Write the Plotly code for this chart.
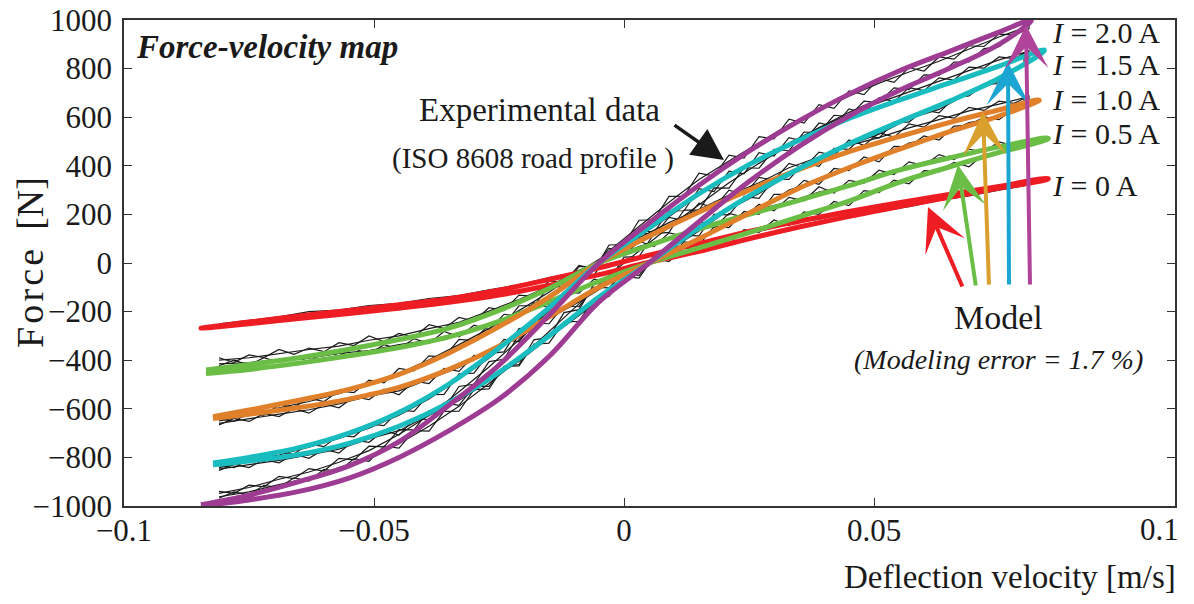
import plotly.graph_objects as go

FONT = "Liberation Serif, Times New Roman, serif"

# ---------------- Model loops (velocity m/s, force N) ----------------
vel_0A = [-0.0846, -0.075, -0.065, -0.055, -0.045, -0.035, -0.025, -0.015, -0.005, 0.005, 0.015, 0.025, 0.035, 0.045, 0.055, 0.065, 0.075, 0.0848]
up_0A = [-268, -243, -218, -195, -172, -147, -112, -68, -20, 32, 80, 130, 172, 212, 248, 282, 315, 348]
lo_0A = [-268, -250, -228, -208, -186, -162, -132, -92, -48, 3, 48, 100, 148, 192, 232, 270, 308, 345]

vel_05A = [-0.0836, -0.075, -0.065, -0.055, -0.045, -0.035, -0.025, -0.015, -0.005, 0.005, 0.015, 0.025, 0.035, 0.045, 0.055, 0.065, 0.075, 0.0848]
up_05A = [-440, -418, -390, -355, -315, -268, -195, -105, 0, 72, 140, 200, 258, 318, 382, 432, 478, 514]
lo_05A = [-455, -438, -412, -382, -348, -304, -240, -160, -75, 0, 62, 125, 190, 255, 332, 395, 455, 510]

vel_1A = [-0.0822, -0.075, -0.065, -0.055, -0.045, -0.035, -0.025, -0.015, -0.005, 0.005, 0.015, 0.025, 0.035, 0.045, 0.055, 0.065, 0.075, 0.083]
up_1A = [-633, -605, -565, -520, -458, -370, -262, -140, 0, 110, 210, 300, 385, 458, 520, 578, 630, 671]
lo_1A = [-640, -622, -595, -560, -512, -438, -342, -222, -100, 0, 100, 205, 308, 392, 468, 540, 605, 668]

vel_15A = [-0.0822, -0.075, -0.065, -0.055, -0.045, -0.035, -0.025, -0.015, -0.005, 0.005, 0.015, 0.025, 0.035, 0.045, 0.055, 0.065, 0.075, 0.084]
up_15A = [-823, -800, -760, -700, -615, -498, -350, -185, 0, 145, 285, 405, 505, 595, 670, 740, 810, 877]
lo_15A = [-830, -815, -788, -742, -672, -575, -450, -300, -140, 0, 145, 275, 388, 490, 580, 665, 760, 872]

vel_2A = [-0.0846, -0.075, -0.065, -0.055, -0.045, -0.035, -0.025, -0.015, -0.005, 0.005, 0.015, 0.025, 0.035, 0.045, 0.055, 0.065, 0.075, 0.0814]
up_2A = [-995, -955, -900, -835, -735, -585, -420, -215, 0, 165, 320, 460, 585, 695, 790, 870, 950, 1000]
lo_2A = [-1000, -975, -940, -885, -800, -690, -560, -385, -160, 0, 170, 335, 480, 605, 710, 800, 900, 995]

# ---------------- Experimental data (ISO 8608 road profile), two recorded cycles ----------------
vel_cyc1 = [-0.081, -0.075, -0.069, -0.063, -0.057, -0.051, -0.045, -0.039, -0.033, -0.027, -0.021, -0.015, -0.009, -0.003,
            0.003, 0.009, 0.015, 0.021, 0.027, 0.033, 0.039, 0.045, 0.051, 0.057, 0.063, 0.069, 0.075, 0.080]
c1_up_0A = [-250, -236, -222, -200, -194, -175, -166, -146, -134, -110, -90, -60, -36, -2, 20, 52, 74, 106, 130, 160, 180, 206, 222, 248, 262, 286, 300, 322]
c1_lo_0A = [-255, -244, -228, -220, -204, -195, -178, -168, -150, -136, -110, -94, -60, -40, -2, 18, 52, 74, 112, 132, 168, 186, 212, 232, 258, 276, 300, 318]
c1_up_05A = [-400, -390, -372, -356, -342, -318, -300, -270, -244, -198, -150, -96, -30, 20, 68, 104, 150, 182, 222, 252, 292, 320, 366, 398, 432, 452, 486, 500]
c1_lo_05A = [-415, -410, -398, -392, -372, -360, -336, -318, -286, -254, -204, -166, -104, -64, -10, 20, 66, 96, 142, 172, 220, 250, 306, 340, 388, 412, 460, 478]
c1_up_1A = [-650, -628, -596, -570, -538, -500, -454, -398, -336, -270, -196, -120, -36, 40, 104, 166, 220, 280, 330, 392, 436, 484, 516, 556, 590, 626, 654, 680]
c1_lo_1A = [-660, -640, -622, -604, -580, -548, -526, -478, -430, -366, -306, -228, -160, -84, -30, 40, 92, 168, 220, 300, 340, 398, 430, 494, 520, 578, 600, 650]
c1_up_15A = [-842, -818, -790, -758, -722, -680, -626, -560, -478, -392, -292, -196, -80, 20, 110, 190, 280, 356, 430, 494, 556, 612, 660, 704, 746, 792, 836, 866]
c1_lo_15A = [-848, -830, -812, -790, -766, -724, -690, -626, -566, -486, -404, -308, -216, -118, -40, 52, 132, 220, 286, 362, 418, 486, 530, 594, 632, 700, 748, 818]
c1_up_2A = [-948, -924, -890, -860, -820, -772, -706, -628, -530, -428, -316, -196, -70, 50, 150, 250, 344, 420, 496, 570, 630, 686, 740, 786, 830, 880, 930, 968]
c1_lo_2A = [-962, -942, -912, -884, -842, -800, -744, -672, -590, -496, -396, -284, -168, -50, 50, 148, 240, 330, 410, 482, 556, 620, 676, 730, 786, 840, 900, 958]

vel_cyc2 = [-0.081, -0.078, -0.075, -0.072, -0.069, -0.066, -0.063, -0.060, -0.057, -0.054, -0.051, -0.048, -0.045, -0.042,
            -0.039, -0.036, -0.033, -0.030, -0.027, -0.024, -0.021, -0.018, -0.015, -0.012, -0.009, -0.006, -0.003, 0.000,
            0.003, 0.006, 0.009, 0.012, 0.015, 0.018, 0.021, 0.024, 0.027, 0.030, 0.033, 0.036, 0.039, 0.042, 0.045, 0.048,
            0.051, 0.054, 0.057, 0.060, 0.063, 0.066, 0.069, 0.072, 0.075, 0.078, 0.081]
c2_up_05A = [-390, -409, -378, -389, -356, -376, -350, -365, -328, -340, -300, -323, -290, -305, -254, -269, -224, -239,
             -184, -196, -132, -137, -74, -79, -10, -25, 38, 30, 90, 68, 124, 111, 174, 146, 204, 188, 242, 215, 270, 256,
             314, 288, 340, 329, 382, 364, 416, 401, 446, 426, 468, 457, 498, 483, 506]
c2_lo_05A = [-423, -400, -420, -390, -410, -385, -406, -366, -382, -352, -376, -336, -354, -311, -332, -282, -304, -256,
             -274, -211, -220, -163, -184, -119, -124, -66, -80, -17, -28, 21, 6, 65, 48, 97, 76, 137, 126, 177, 154, 210,
             200, 253, 236, 298, 290, 341, 326, 380, 376, 414, 396, 448, 450, 479, 482]
c2_up_1A = [-642, -651, -618, -626, -584, -593, -556, -570, -526, -533, -482, -493, -434, -444, -382, -387, -314, -319,
            -252, -255, -176, -176, -96, -98, -14, -16, 60, 50, 128, 115, 188, 175, 246, 228, 300, 281, 352, 341, 410, 392,
            456, 442, 506, 484, 536, 518, 572, 559, 606, 596, 640, 628, 666, 657, 686]
c2_lo_1A = [-666, -640, -652, -619, -632, -599, -618, -580, -596, -550, -562, -519, -542, -486, -496, -434, -446, -380,
            -386, -314, -324, -247, -250, -176, -180, -100, -102, -37, -52, 23, 20, 88, 74, 150, 146, 212, 200, 282, 282,
            340, 324, 389, 380, 436, 416, 480, 478, 523, 506, 563, 566, 601, 590, 635, 656]
c2_up_15A = [-834, -842, -808, -818, -778, -786, -744, -756, -708, -715, -662, -669, -606, -611, -542, -541, -456, -453,
             -372, -366, -270, -264, -172, -160, -58, -50, 44, 43, 136, 126, 214, 215, 306, 294, 378, 367, 454, 440, 516,
             501, 576, 562, 634, 616, 680, 664, 722, 709, 762, 753, 806, 802, 848, 841, 874]
c2_lo_15A = [-854, -829, -842, -809, -822, -787, -804, -766, -782, -729, -738, -689, -708, -642, -644, -576, -586, -508,
             -508, -425, -424, -334, -330, -242, -240, -145, -138, -55, -62, 26, 28, 114, 112, 200, 198, 273, 266, 346, 344,
             412, 398, 472, 468, 526, 514, 580, 580, 629, 618, 680, 688, 736, 738, 793, 824]
c2_up_2A = [-940, -948, -914, -921, -878, -887, -846, -856, -804, -810, -754, -757, -686, -687, -608, -601, -508, -499,
            -406, -396, -294, -278, -172, -155, -46, -32, 74, 76, 176, 178, 274, 275, 370, 358, 444, 432, 520, 511, 592,
            576, 652, 636, 708, 693, 760, 743, 804, 790, 848, 839, 894, 891, 942, 939, 976]
c2_lo_2A = [-968, -942, -954, -915, -924, -884, -898, -849, -858, -805, -816, -754, -762, -690, -692, -611, -610, -521,
            -518, -426, -418, -316, -306, -204, -192, -87, -72, 24, 26, 121, 126, 218, 218, 309, 308, 392, 390, 468, 462,
            539, 536, 608, 602, 666, 660, 721, 714, 774, 772, 827, 828, 882, 890, 939, 964]

currents = ["I = 0 A", "I = 0.5 A", "I = 1.0 A", "I = 1.5 A", "I = 2.0 A"]
model_colors = ["#EE1D24", "#6BBE45", "#E0802A", "#19BDBF", "#9E3B93"]
arrow_colors = ["#EE1D24", "#6BBE45", "#D9A02E", "#1AA5D3", "#B0449A"]

model_sets = [(vel_0A, up_0A, lo_0A), (vel_05A, up_05A, lo_05A), (vel_1A, up_1A, lo_1A),
              (vel_15A, up_15A, lo_15A), (vel_2A, up_2A, lo_2A)]
exp_sets = [(vel_cyc1, c1_up_0A, c1_lo_0A),
            (vel_cyc1, c1_up_05A, c1_lo_05A), (vel_cyc2, c2_up_05A, c2_lo_05A),
            (vel_cyc1, c1_up_1A, c1_lo_1A), (vel_cyc2, c2_up_1A, c2_lo_1A),
            (vel_cyc1, c1_up_15A, c1_lo_15A), (vel_cyc2, c2_up_15A, c2_lo_15A),
            (vel_cyc1, c1_up_2A, c1_lo_2A), (vel_cyc2, c2_up_2A, c2_lo_2A)]

fig = go.Figure()

# experimental loops (black, thin)
for ev, eu, el in exp_sets:
    fig.add_trace(go.Scatter(
        x=list(ev) + list(ev[::-1]), y=list(el) + list(eu[::-1]),
        mode="lines", line=dict(color="#1a1a1a", width=1.2), name="Experimental",
        showlegend=False, hoverinfo="skip"))

# model loops (coloured, thick)
for (v, u, l), c, name in zip(model_sets, model_colors, currents):
    fig.add_trace(go.Scatter(
        x=list(v) + list(v[::-1]), y=list(l) + list(u[::-1]),
        mode="lines", line=dict(color=c, width=5, shape="spline", smoothing=1.0),
        name="Model " + name, showlegend=False, hoverinfo="skip"))

# ---------------- axes ----------------
axis_common = dict(showline=True, linecolor="#333333", linewidth=1.5, mirror="ticks",
                   ticks="inside", ticklen=8, tickcolor="#333333", tickwidth=1,
                   showgrid=False, zeroline=False, automargin=False, ticklabeloverflow="allow",
                   tickfont=dict(family=FONT, size=31, color="#1a1a1a"))
fig.update_xaxes(range=[-0.1, 0.1102], tickvals=[-0.1, -0.05, 0, 0.05],
                 ticktext=["\u22120.1", "\u22120.05", "0", "0.05"], ticklabelstandoff=-4, **axis_common)
fig.update_yaxes(range=[-1000, 1000], tickvals=list(range(-1000, 1001, 200)),
                 ticklabelstandoff=4, **axis_common)

ann = []
def txt(x, y, s, size, xanchor="center", yanchor="middle", xref="x", yref="y", angle=0):
    ann.append(dict(x=x, y=y, text=s, xref=xref, yref=yref, showarrow=False, xanchor=xanchor,
                    yanchor=yanchor, textangle=angle, font=dict(family=FONT, size=size, color="#1a1a1a")))

txt(-0.098, 889, "<b><i>Force-velocity map</i></b>", 33, xanchor="left")
txt(-0.017, 630, "Experimental data", 33)
txt(-0.0182, 432, "(ISO 8608 road profile )", 29)
label_y = [321, 535, 671, 815, 947]
for s, yv in zip(currents, label_y):
    txt(0.0852, yv, "<i>I</i>" + s[1:], 30, xanchor="left")
txt(0.0748, -226, "Model", 34)
txt(0.0748, -399, "<i>(Modeling error = 1.7 %)</i>", 28)
txt(0.985, -0.049, "0.1", 31, xref="paper", yref="paper")
txt(1.003, -0.146, "Deflection velocity [m/s]", 33, xanchor="right", xref="paper", yref="paper")
txt(-0.0894, 0.5, "F\u200ao\u200ar\u200ac\u200ae\u2002[N]", 38, xref="paper", yref="paper", angle=-90)

# model arrows (tip, tail) in data coords
arrow_tips = [(0.0608, 230), (0.0668, 403), (0.0718, 621), (0.0768, 827), (0.0804, 979)]
arrow_tails = [(0.0678, -103), (0.0704, -99), (0.073, -95), (0.077, -95), (0.0812, -95)]
for (tx, ty), (sx, sy), c in zip(arrow_tips, arrow_tails, arrow_colors):
    ann.append(dict(x=tx, y=ty, ax=sx, ay=sy, xref="x", yref="y", axref="x", ayref="y",
                    text="", showarrow=True, arrowhead=3, arrowsize=1.8, arrowwidth=4,
                    arrowcolor=c, standoff=0))
# experimental-data arrow
ann.append(dict(x=0.02, y=424, ax=0.0098, ay=572, xref="x", yref="y", axref="x", ayref="y",
                text="", showarrow=True, arrowhead=2, arrowsize=1.8, arrowwidth=3.5,
                arrowcolor="#1a1a1a", standoff=0))

fig.update_layout(width=1194, height=604, margin=dict(l=124, r=19, t=20, b=98, autoexpand=False),
                  plot_bgcolor="white", paper_bgcolor="white", annotations=ann,
                  font=dict(family=FONT, color="#1a1a1a"))

# remove the browser's default 8 px body margin so the figure sits at the window's top-left corner
fig.write_html("out.html", post_script="document.body.style.margin='0';",
               config={"displayModeBar": False})
